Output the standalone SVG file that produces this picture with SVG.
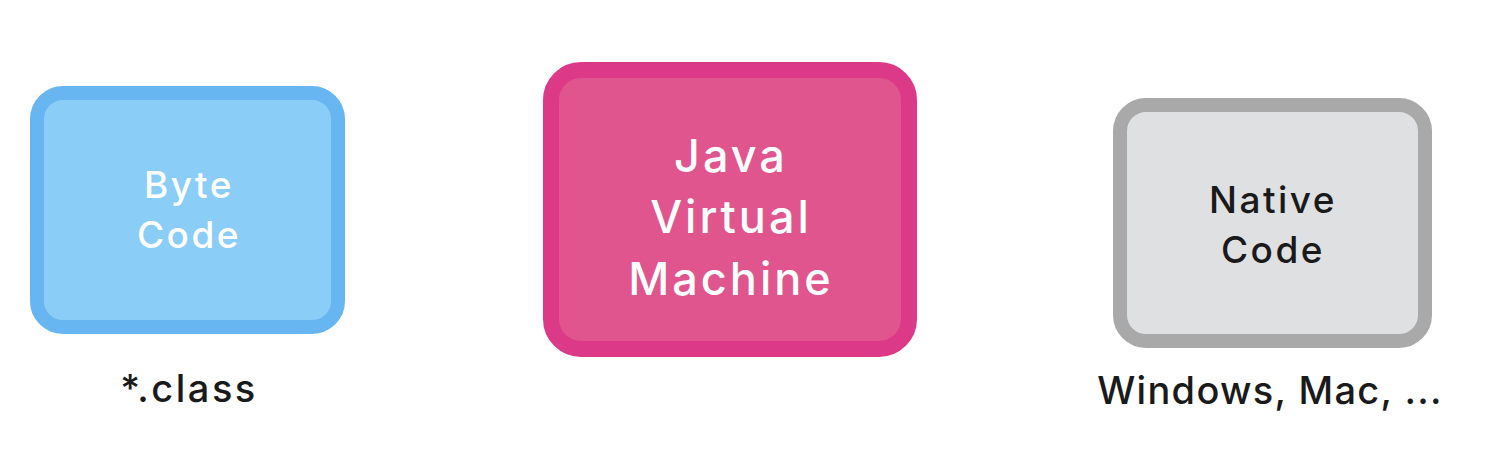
<svg xmlns="http://www.w3.org/2000/svg" width="1510" height="454" viewBox="0 0 1510 454">
<style>
.t{font-family:Inter,"Noto Sans","Liberation Sans",sans-serif;text-anchor:middle;font-weight:500;letter-spacing:2.5px}
.w{fill:#ffffff}
.d{fill:#1a1a1a}
</style>
<rect width="1510" height="454" fill="#ffffff"/>
<g id="byte-code">
<rect x="37" y="93" width="301" height="234" rx="26" fill="#8ACEF7" stroke="#68B6F1" stroke-width="14"/>
<text class="t w" x="189" y="198" font-size="37">Byte</text>
<text class="t w" x="189" y="248" font-size="37">Code</text>
<text class="t d" x="189" y="402" font-size="38">*.class</text>
</g>
<g id="jvm">
<rect x="551" y="70" width="358" height="279" rx="30" fill="#E0558D" stroke="#DC3A88" stroke-width="16"/>
<text class="t w" x="731" y="172" font-size="45" style="letter-spacing:3px">Java</text>
<text class="t w" x="731" y="233" font-size="45" style="letter-spacing:3px">Virtual</text>
<text class="t w" x="731" y="295" font-size="45" style="letter-spacing:3px">Machine</text>
</g>
<g id="native-code">
<rect x="1120" y="105" width="305" height="236" rx="26" fill="#DFE0E2" stroke="#A9A9A9" stroke-width="14"/>
<text class="t d" x="1273" y="213" font-size="37">Native</text>
<text class="t d" x="1273" y="263" font-size="37">Code</text>
<text class="t d" x="1270" y="404" font-size="38" style="letter-spacing:1.3px">Windows, Mac, ...</text>
</g>
<g id="connectors"></g>
</svg>
